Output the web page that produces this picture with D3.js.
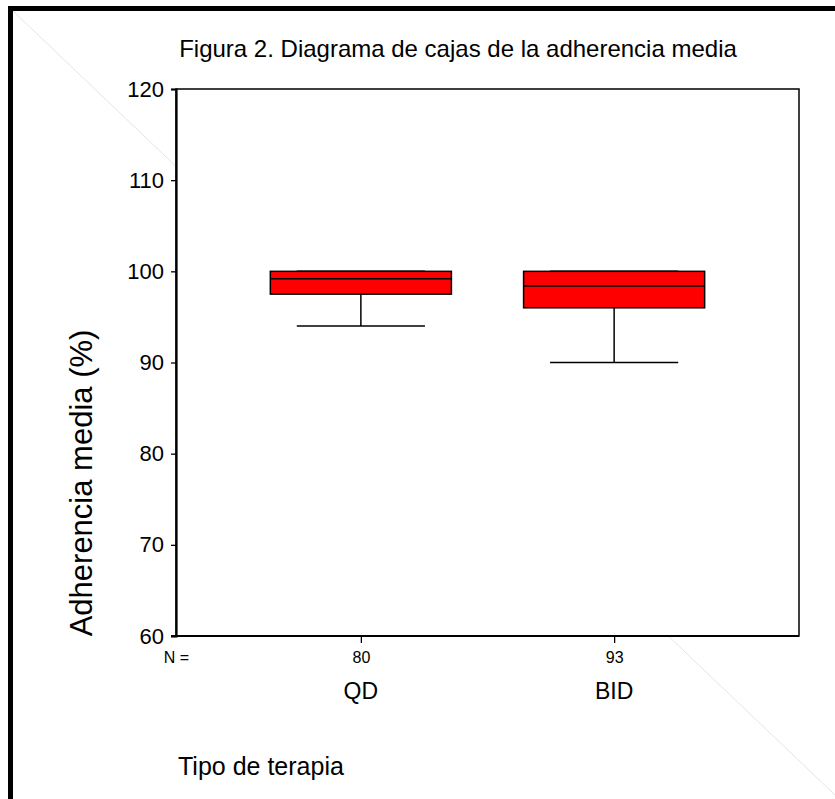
<!DOCTYPE html>
<html>
  <head>
    <meta charset="utf-8">
    <title>Figura 2</title>
    <script type="text/javascript" src="https://d3js.org/d3.v7.min.js"></script>
    <style>
      body { margin: 0; background: #fff; }
      text { font-family: Arial, "Liberation Sans", sans-serif; fill: #000; }
    </style>
  </head>
  <body>
    <script type="text/javascript">

      // data
      var categories = ["QD", "BID"];
      var counts = [80, 93];
      var lowWhisker = [94, 90];
      var q1 = [97.5, 96];
      var median = [99.2, 98.4];
      var q3 = [100, 100];
      var highWhisker = [100, 100];
      var yTicks = [60, 70, 80, 90, 100, 110, 120];

      var width = 835;
      var height = 799;
      var plot = {left: 176, top: 89, right: 799, bottom: 636};

      var svg = d3.select("body")
            .append("svg")
            .attr("width", width)
            .attr("height", height);

      // faint scan line behind the plot
      svg.append("line")
        .attr("x1", 13).attr("y1", 11)
        .attr("x2", 835).attr("y2", 795)
        .attr("stroke", "#e4e4e4")
        .attr("stroke-width", 1);

      // page frame (left and top only)
      svg.append("rect").attr("x", 8).attr("y", 6).attr("width", 5).attr("height", height).attr("fill", "#000");
      svg.append("rect").attr("x", 8).attr("y", 6).attr("width", width).attr("height", 5).attr("fill", "#000");

      var yScale = d3.scaleLinear()
        .domain([60, 120])
        .range([plot.bottom, plot.top]);

      var xScale = d3.scalePoint()
        .domain(categories)
        .range([plot.left, plot.right])
        .padding(0.73);

      var step = xScale.step();
      var boxW = step * 0.715;
      var capW = step * 0.506;

      // plot area
      svg.append("rect")
        .attr("x", plot.left)
        .attr("y", plot.top)
        .attr("width", plot.right - plot.left)
        .attr("height", plot.bottom - plot.top)
        .attr("fill", "#fff")
        .attr("stroke", "#000")
        .attr("stroke-width", 1.5);

      // y axis
      var yAxis = d3.axisLeft(yScale)
        .tickValues(yTicks)
        .tickSize(5)
        .tickPadding(7)
        .tickFormat(d3.format("d"));

      var gy = svg.append("g")
        .attr("transform", "translate(" + plot.left + ",0)")
        .call(yAxis);
      gy.select(".domain").attr("stroke-width", 2.2);
      gy.selectAll(".tick line").attr("stroke-width", 1.3);
      gy.selectAll(".tick text")
        .style("font-size", "22px")
        .attr("font-family", "Arial, 'Liberation Sans', sans-serif");

      // x axis with counts as labels
      var xAxis = d3.axisBottom(xScale)
        .tickSize(7)
        .tickSizeOuter(0)
        .tickPadding(8.5)
        .tickFormat(function(d) { return counts[categories.indexOf(d)]; });

      var gx = svg.append("g")
        .attr("transform", "translate(0," + plot.bottom + ")")
        .call(xAxis);
      gx.select(".domain")
        .attr("d", "M" + (plot.left - 5) + ",0H" + plot.right)
        .attr("stroke-width", 2);
      gx.selectAll(".tick line").attr("stroke-width", 1.3);
      gx.selectAll(".tick text")
        .style("font-size", "16px")
        .attr("font-family", "Arial, 'Liberation Sans', sans-serif");

      svg.append("text")
        .attr("x", 189)
        .attr("y", 663)
        .attr("text-anchor", "end")
        .style("font-size", "16px")
        .text("N =");

      // category names
      svg.selectAll(".catname")
        .data(categories)
        .enter()
        .append("text")
        .attr("class", "catname")
        .attr("x", function(d) { return xScale(d); })
        .attr("y", 699)
        .attr("text-anchor", "middle")
        .style("font-size", "23px")
        .text(function(d) { return d; });

      // boxes
      var boxes = svg.selectAll(".box")
        .data(categories)
        .enter()
        .append("g")
        .attr("class", "box");

      boxes.append("line")
        .attr("x1", function(d) { return xScale(d); })
        .attr("x2", function(d) { return xScale(d); })
        .attr("y1", function(d, i) { return yScale(lowWhisker[i]); })
        .attr("y2", function(d, i) { return yScale(q1[i]); })
        .attr("stroke", "#000").attr("stroke-width", 1.5);

      boxes.append("line")
        .attr("x1", function(d) { return xScale(d) - capW / 2; })
        .attr("x2", function(d) { return xScale(d) + capW / 2; })
        .attr("y1", function(d, i) { return yScale(lowWhisker[i]); })
        .attr("y2", function(d, i) { return yScale(lowWhisker[i]); })
        .attr("stroke", "#000").attr("stroke-width", 1.5);

      boxes.append("line")
        .attr("x1", function(d) { return xScale(d); })
        .attr("x2", function(d) { return xScale(d); })
        .attr("y1", function(d, i) { return yScale(highWhisker[i]); })
        .attr("y2", function(d, i) { return yScale(q3[i]); })
        .attr("stroke", "#000").attr("stroke-width", 1.5);

      boxes.append("rect")
        .attr("x", function(d) { return xScale(d) - boxW / 2; })
        .attr("width", boxW)
        .attr("y", function(d, i) { return yScale(q3[i]); })
        .attr("height", function(d, i) { return yScale(q1[i]) - yScale(q3[i]); })
        .attr("fill", "#ff0000")
        .attr("stroke", "#000")
        .attr("stroke-width", 1.5);

      boxes.append("line")
        .attr("x1", function(d) { return xScale(d) - capW / 2; })
        .attr("x2", function(d) { return xScale(d) + capW / 2; })
        .attr("y1", function(d, i) { return yScale(highWhisker[i]); })
        .attr("y2", function(d, i) { return yScale(highWhisker[i]); })
        .attr("stroke", "#000").attr("stroke-width", 1.5);

      boxes.append("line")
        .attr("x1", function(d) { return xScale(d) - boxW / 2; })
        .attr("x2", function(d) { return xScale(d) + boxW / 2; })
        .attr("y1", function(d, i) { return yScale(median[i]); })
        .attr("y2", function(d, i) { return yScale(median[i]); })
        .attr("stroke", "#000").attr("stroke-width", 1.5);

      // titles
      svg.append("text")
        .attr("x", 458)
        .attr("y", 57)
        .attr("text-anchor", "middle")
        .style("font-size", "24px")
        .text("Figura 2. Diagrama de cajas de la adherencia media");

      svg.append("text")
        .attr("transform", "translate(92,483) rotate(-90)")
        .attr("text-anchor", "middle")
        .style("font-size", "31px")
        .text("Adherencia media (%)");

      svg.append("text")
        .attr("x", 178)
        .attr("y", 775)
        .style("font-size", "25px")
        .text("Tipo de terapia");

    </script>
  </body>
</html>
